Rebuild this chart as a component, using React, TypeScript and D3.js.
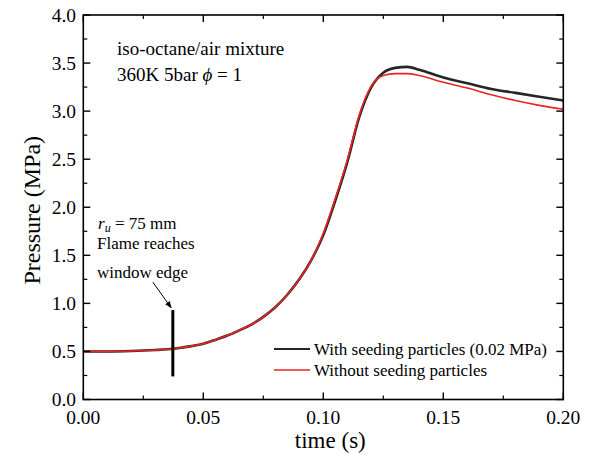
import React, { useEffect } from 'react'
import * as d3 from 'd3'

const W = 599
const H = 454
const margin = { left: 83.3, top: 15, right: 599 - 563.3, bottom: 454 - 399.5 }

const time = [0, 0.01, 0.02, 0.03, 0.035, 0.04, 0.045, 0.05, 0.055, 0.06, 0.065, 0.07, 0.075, 0.08, 0.085, 0.09, 0.095, 0.1, 0.105, 0.11, 0.115, 0.12, 0.125, 0.13, 0.135, 0.14, 0.15, 0.16, 0.17, 0.18, 0.19, 0.2]
const withSeeding = [0.5, 0.5, 0.505, 0.515, 0.522, 0.535, 0.555, 0.58, 0.62, 0.665, 0.72, 0.78, 0.86, 0.96, 1.09, 1.25, 1.45, 1.71, 2.07, 2.47, 2.94, 3.25, 3.4, 3.45, 3.46, 3.43, 3.35, 3.29, 3.23, 3.19, 3.15, 3.11]
const withoutSeeding = [0.5, 0.5, 0.505, 0.515, 0.522, 0.535, 0.555, 0.58, 0.62, 0.665, 0.72, 0.78, 0.86, 0.96, 1.09, 1.25, 1.45, 1.73, 2.09, 2.49, 2.96, 3.26, 3.37, 3.39, 3.39, 3.37, 3.3, 3.24, 3.17, 3.11, 3.06, 3.02]

const xTicks = [0, 0.05, 0.1, 0.15, 0.2]
const yTicks = [0, 0.5, 1, 1.5, 2, 2.5, 3, 3.5, 4]

const series = [
  { name: 'With seeding particles (0.02 MPa)', values: withSeeding, color: '#262626', width: 2.6 },
  { name: 'Without seeding particles', values: withoutSeeding, color: '#ee2222', width: 1.6 }
]

// flame reaches window edge
const edgeTime = 0.0373
const edgeRange = [0.24, 0.93]

const font = '"Liberation Serif", "Times New Roman", serif'

export default function App() {
  useEffect(() => {
    document.body.style.margin = '0'
  }, [])

  const x = d3.scaleLinear().domain([0, 0.2]).range([margin.left, W - margin.right])
  const y = d3.scaleLinear().domain([0, 4]).range([H - margin.bottom, margin.top])

  const line = (vals: number[]) =>
    d3.line<number>()
      .x((_, i) => x(time[i]))
      .y(d => y(d))
      .curve(d3.curveMonotoneX)(vals) || ''

  const x0 = x(0), x1 = x(0.2), y0 = y(0), y1 = y(4)
  const xMinor = d3.range(0.025, 0.2, 0.05)
  const yMinor = d3.range(0.25, 4, 0.5)

  const arrowStart = [x(0.029), y(1.22)]
  const arrowEnd = [x(0.0366), y(0.955)]

  return (
    <svg width={W} height={H} style={{ display: 'block', background: '#fff', fontFamily: font }}>
      <defs>
        <marker id="arr" viewBox="0 0 10 10" refX="9" refY="5" markerWidth="7" markerHeight="7" orient="auto">
          <path d="M0,1 L10,5 L0,9 z" fill="#000" />
        </marker>
      </defs>

      {series.map(s => (
        <path key={s.name} d={line(s.values)} fill="none" stroke={s.color} strokeWidth={s.width} />
      ))}

      <line x1={x(edgeTime)} x2={x(edgeTime)} y1={y(edgeRange[0])} y2={y(edgeRange[1])} stroke="#000" strokeWidth={3} />
      <line x1={arrowStart[0]} y1={arrowStart[1]} x2={arrowEnd[0]} y2={arrowEnd[1]} stroke="#000" strokeWidth={1} markerEnd="url(#arr)" />

      {/* frame */}
      <rect x={x0} y={y1} width={x1 - x0} height={y0 - y1} fill="none" stroke="#000" strokeWidth={1.6} />

      {/* ticks, inward on all four sides */}
      {xTicks.map(t => (
        <g key={'xt' + t}>
          <line x1={x(t)} x2={x(t)} y1={y0} y2={y0 - 7} stroke="#000" strokeWidth={1.4} />
          <line x1={x(t)} x2={x(t)} y1={y1} y2={y1 + 7} stroke="#000" strokeWidth={1.4} />
          <text x={x(t)} y={424} textAnchor="middle" fontSize={19.5}>{t.toFixed(2)}</text>
        </g>
      ))}
      {xMinor.map(t => (
        <g key={'xm' + t}>
          <line x1={x(t)} x2={x(t)} y1={y0} y2={y0 - 4} stroke="#000" strokeWidth={1.2} />
          <line x1={x(t)} x2={x(t)} y1={y1} y2={y1 + 4} stroke="#000" strokeWidth={1.2} />
        </g>
      ))}
      {yTicks.map(t => (
        <g key={'yt' + t}>
          <line x1={x0} x2={x0 + 7} y1={y(t)} y2={y(t)} stroke="#000" strokeWidth={1.4} />
          <line x1={x1} x2={x1 - 7} y1={y(t)} y2={y(t)} stroke="#000" strokeWidth={1.4} />
          <text x={76} y={y(t) + 6.5} textAnchor="end" fontSize={19.5}>{t.toFixed(1)}</text>
        </g>
      ))}
      {yMinor.map(t => (
        <g key={'ym' + t}>
          <line x1={x0} x2={x0 + 4} y1={y(t)} y2={y(t)} stroke="#000" strokeWidth={1.2} />
          <line x1={x1} x2={x1 - 4} y1={y(t)} y2={y(t)} stroke="#000" strokeWidth={1.2} />
        </g>
      ))}

      {/* axis titles */}
      <text x={(x0 + x1) / 2 + 7} y={448} textAnchor="middle" fontSize={23}>time (s)</text>
      <text transform={`translate(40, ${(y0 + y1) / 2 + 3}) rotate(-90)`} textAnchor="middle" fontSize={24}>Pressure (MPa)</text>

      {/* annotations */}
      <text x={117} y={55} fontSize={19}>iso-octane/air mixture</text>
      <text x={117} y={81} fontSize={19}>360K 5bar <tspan fontStyle="italic">ϕ</tspan> = 1</text>
      <text x={98} y={229} fontSize={17}><tspan fontStyle="italic">r</tspan><tspan fontStyle="italic" fontSize={12} dy={3}>u</tspan><tspan dy={-3}> = 75 mm</tspan></text>
      <text x={97} y={249} fontSize={17}>Flame reaches</text>
      <text x={97} y={278} fontSize={17}>window edge</text>

      {/* legend */}
      {series.map((s, i) => (
        <g key={'lg' + s.name} transform={`translate(0, ${349 + i * 21})`}>
          <line x1={274} x2={310} y1={0} y2={0} stroke={s.color} strokeWidth={s.width > 2 ? 2 : 1.5} />
          <text x={314} y={6} fontSize={17}>{s.name}</text>
        </g>
      ))}
    </svg>
  )
}
